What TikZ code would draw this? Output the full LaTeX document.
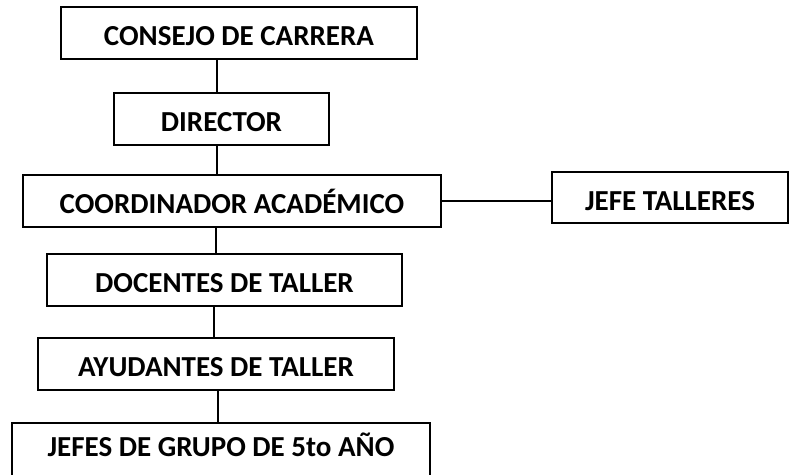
\documentclass[tikz,border=0pt]{standalone}
\usepackage{fontspec}
\setmainfont{Carlito}
\begin{document}
\begin{tikzpicture}[x=1pt,y=-1pt,
  orgbox/.style={draw, line width=1.4pt, rectangle, inner sep=0pt,
    font=\fontsize{29}{33}\selectfont\bfseries, text height=25pt, text depth=0pt},
  link/.style={line width=1.3pt}]
\useasboundingbox (0,0) rectangle (789,474);
\fill[white] (0,0) rectangle (789,474);
\node[orgbox, minimum width=356pt, minimum height=52pt] (consejo) at (239,33) {CONSEJO DE CARRERA};
\node[orgbox, minimum width=215pt, minimum height=52pt] (director) at (221.5,119) {DIRECTOR};
\node[orgbox, minimum width=418pt, minimum height=52pt] (coord) at (232,201) {COORDINADOR ACADÉMICO};
\node[orgbox, minimum width=236pt, minimum height=51pt] (jefe) at (670,197.5) {JEFE TALLERES};
\node[orgbox, minimum width=355pt, minimum height=52pt] (docentes) at (224.5,280) {DOCENTES DE TALLER};
\node[orgbox, minimum width=356pt, minimum height=52pt] (ayudantes) at (216,364) {AYUDANTES DE TALLER};
\node[orgbox, minimum width=418pt, minimum height=54pt, text height=12pt] (jefes) at (221,450) {JEFES DE GRUPO DE 5to AÑO};
\coordinate (xa) at (217,0);
\coordinate (xb) at (216,0);
\coordinate (xc) at (214,0);
\coordinate (xd) at (218,0);
\draw[link] (consejo.south -| xa) -- (director.north -| xa);
\draw[link] (director.south -| xa) -- (coord.north -| xa);
\draw[link] (coord.south -| xb) -- (docentes.north -| xb);
\draw[link] (docentes.south -| xc) -- (ayudantes.north -| xc);
\draw[link] (ayudantes.south -| xd) -- (jefes.north -| xd);
\draw[link] (coord.east) -- (coord.east -| jefe.west);
\end{tikzpicture}
\end{document}
